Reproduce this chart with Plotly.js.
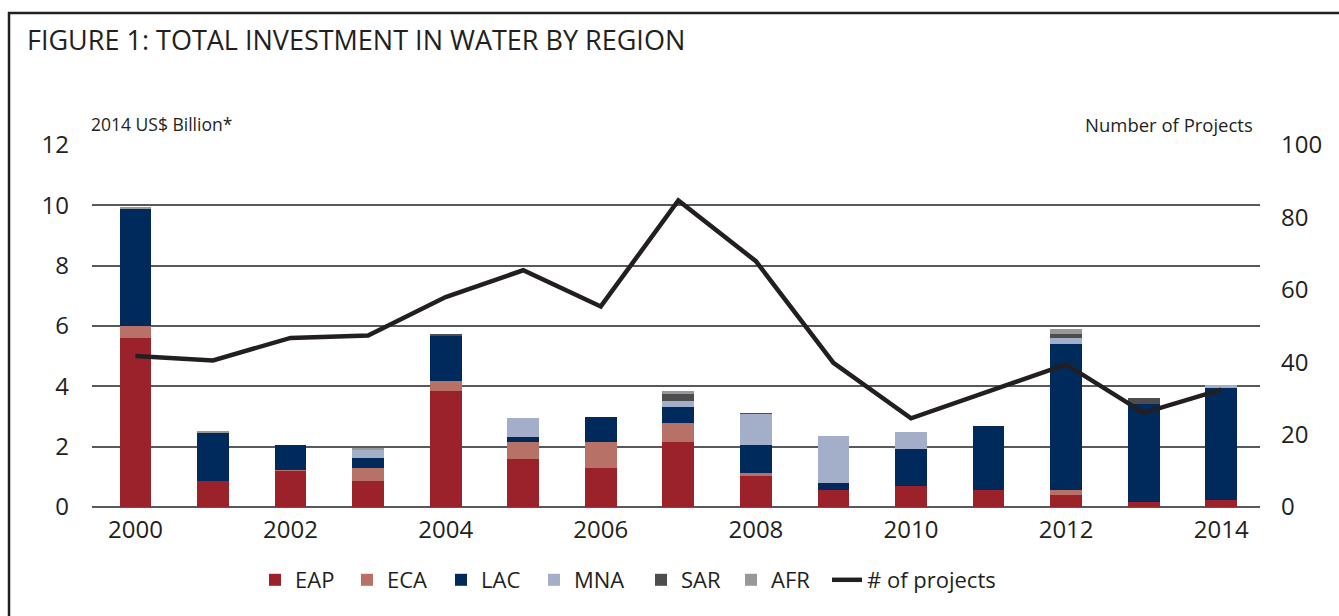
<!DOCTYPE html>
<html>
<head>
<meta charset="utf-8">
<script src="https://cdn.plot.ly/plotly-3.0.1.min.js"></script>
<style>
    html, body { margin: 0; padding: 0; background: #fff; }
    #chart { width: 1339px; height: 616px; }
</style>
</head>
<body>
<div id="chart"></div>
<script>
// values (2014 US$ billion, project counts)
const years = [2000, 2001, 2002, 2003, 2004, 2005, 2006, 2007, 2008, 2009, 2010, 2011, 2012, 2013, 2014];
const eap = [5.60, 0.85, 1.18, 0.85, 3.86, 1.58, 1.28, 2.14, 1.04, 0.55, 0.68, 0.55, 0.41, 0.15, 0.22];
const eca = [0.39, 0, 0.06, 0.43, 0.33, 0.56, 0.86, 0.66, 0.10, 0, 0, 0, 0.14, 0, 0];
const lac = [3.88, 1.59, 0.80, 0.36, 1.47, 0.17, 0.86, 0.50, 0.93, 0.23, 1.23, 2.15, 4.84, 3.28, 3.71];
const mna = [0, 0, 0, 0.25, 0, 0.63, 0, 0.23, 1.00, 1.56, 0.59, 0, 0.20, 0, 0.13];
const sar = [0, 0, 0, 0, 0.09, 0, 0, 0.20, 0.06, 0.03, 0, 0, 0.13, 0.17, 0];
const afr = [0.09, 0.07, 0, 0.08, 0, 0, 0, 0.13, 0, 0, 0, 0, 0.17, 0, 0];
const projects = [41.7, 40.5, 46.7, 47.4, 58, 65.4, 55.4, 84.7, 67.9, 39.8, 24.5, 32, 39.4, 26, 32.4];

// legendwidth = room for each legend label, so the entries spread like the original
const regions = [
    { name: 'EAP', values: eap, color: '#9b212b', legendwidth: 47 },
    { name: 'ECA', values: eca, color: '#b87166', legendwidth: 49 },
    { name: 'LAC', values: lac, color: '#002a5c', legendwidth: 48 },
    { name: 'MNA', values: mna, color: '#a3aec9', legendwidth: 62 },
    { name: 'SAR', values: sar, color: '#4d4d4f', legendwidth: 45 },
    { name: 'AFR', values: afr, color: '#97989a', legendwidth: 51 },
];

const FONT = '"Open Sans", "Noto Sans", sans-serif';
const INK = '#231f20';
const W = 1339, H = 616;
const margin = { l: 92, r: 79, t: 145, b: 109 };
const pw = W - margin.l - margin.r;
const ph = H - margin.t - margin.b;
const px = x => (x - margin.l) / pw;
const py = y => (H - margin.b - y) / ph;

const traces = regions.map(r => ({
    type: 'bar',
    x: years,
    y: r.values,
    name: r.name,
    legendwidth: r.legendwidth,
    width: 0.41,
    marker: { color: r.color, line: { width: 0 } },
    hovertemplate: `${r.name} %{x}: %{y:.2f}<extra></extra>`,
}));

traces.push({
    type: 'scatter',
    mode: 'lines',
    x: years,
    y: projects,
    yaxis: 'y2',
    name: '# of projects',
    line: { color: INK, width: 4.5 },
    hovertemplate: '%{x}: %{y:.0f} projects<extra></extra>',
});

const layout = {
    width: W,
    height: H,
    margin,
    paper_bgcolor: '#fff',
    plot_bgcolor: '#fff',
    barmode: 'stack',
    font: { family: FONT, color: INK, size: 22 },
    title: {
        text: 'FIGURE 1: TOTAL INVESTMENT IN WATER BY REGION',
        font: { family: FONT, size: 27, color: INK },
        xref: 'container', x: 27 / W, xanchor: 'left',
        yref: 'container', y: 1 - 41 / H, yanchor: 'middle',
    },
    xaxis: {
        type: 'linear',
        range: [1999.44, 2014.5],
        tick0: 2000,
        dtick: 2,
        showgrid: false,
        zeroline: false,
        ticks: '',
        ticklabelstandoff: 6,
        tickfont: { family: FONT, size: 24, color: INK },
    },
    yaxis: {
        range: [0, 12],
        dtick: 2,
        showgrid: true,
        gridcolor: '#58595b',
        gridwidth: 2,
        zeroline: true,
        zerolinecolor: '#58595b',
        zerolinewidth: 2,
        ticks: '',
        ticklabelstandoff: 22,
        tickfont: { family: FONT, size: 24, color: INK },
    },
    yaxis2: {
        overlaying: 'y',
        side: 'right',
        range: [0, 100],
        dtick: 20,
        showgrid: false,
        zeroline: false,
        ticks: '',
        ticklabelstandoff: 20,
        tickfont: { family: FONT, size: 24, color: INK },
    },
    legend: {
        orientation: 'h',
        x: px(255), xanchor: 'left',
        y: py(580), yanchor: 'middle',
        font: { family: FONT, size: 22, color: INK },
        traceorder: 'normal',
        itemwidth: 30,
    },
    annotations: [
        {
            text: '2014 US$ Billion*',
            xref: 'paper', yref: 'paper',
            x: px(89), y: py(124), xanchor: 'left', yanchor: 'middle',
            showarrow: false,
            font: { family: FONT, size: 17.5, color: INK },
        },
        {
            text: 'Number of Projects',
            xref: 'paper', yref: 'paper',
            x: px(1255), y: py(124), xanchor: 'right', yanchor: 'middle',
            showarrow: false,
            font: { family: FONT, size: 18.5, color: INK },
        },
    ],
    shapes: [
        {
            type: 'line', xref: 'paper', yref: 'paper',
            x0: px(8), x1: px(W + 5), y0: py(13), y1: py(13),
            line: { color: INK, width: 2.5 },
        },
        {
            type: 'line', xref: 'paper', yref: 'paper',
            x0: px(9), x1: px(9), y0: py(12), y1: py(H + 5),
            line: { color: INK, width: 2.5 },
        },
    ],
};

Plotly.newPlot('chart', traces, layout, { displayModeBar: false, staticPlot: true });
</script>
</body>
</html>
